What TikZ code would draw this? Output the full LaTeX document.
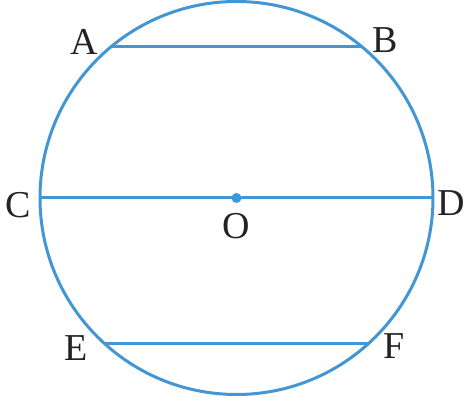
\documentclass[tikz,border=0pt]{standalone}
\usepackage{fontspec}
\setmainfont{Liberation Serif}
\usetikzlibrary{positioning}
\definecolor{circblue}{RGB}{66,150,212}
\definecolor{lblgray}{RGB}{35,35,35}

\begin{document}
\begin{tikzpicture}[x=1pt, y=1pt,
  rim/.style={draw=circblue, line width=3pt},
  lbl/.style={inner sep=0pt, text=lblgray, font=\fontsize{38}{44}\selectfont}]
\useasboundingbox (-236.5,-205) rectangle (229.5,198);
% circle and centre
\coordinate (O) at (0,0);
\draw[rim] (O) circle (196.5);
\fill[circblue] (O) circle (5);
% points on the circle
\coordinate (A) at (129.33:196.5);
\coordinate (B) at (50.67:196.5);
\coordinate (C) at (180:196.5);
\coordinate (D) at (0:196.5);
\coordinate (E) at (227.56:196.5);
\coordinate (F) at (-47.56:196.5);
% chords
\draw[rim] (A) -- (B);
\draw[rim] (C) -- (D);
\draw[rim] (E) -- (F);
% labels
\node[lbl, left=14pt of A, yshift=4.5pt] (labA) {A};
\node[lbl, right=11pt of B, yshift=6pt] (labB) {B};
\node[lbl, left=9pt of C, yshift=-7.5pt] (labC) {C};
\node[lbl, right=4pt of D, yshift=-5.5pt] (labD) {D};
\node[lbl, below=15pt of O] (labO) {O};
\node[lbl, left=16pt of E, yshift=-5.5pt] (labE) {E};
\node[lbl, right=14pt of F, yshift=-3.5pt] (labF) {F};
\end{tikzpicture}
\end{document}
